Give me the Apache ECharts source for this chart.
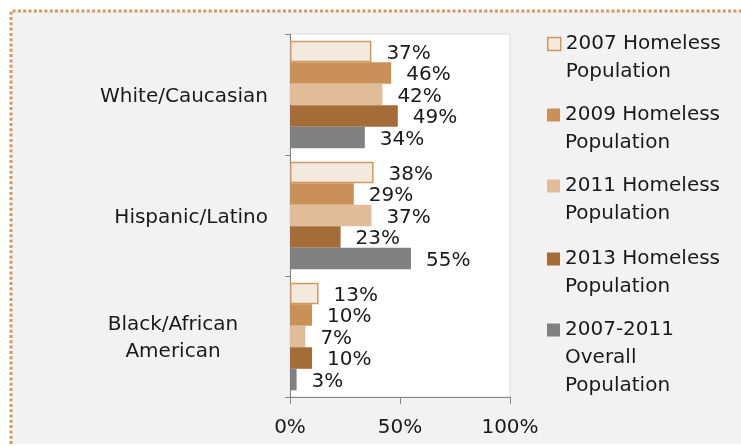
<!DOCTYPE html>
<html>
<head>
<meta charset="utf-8">
<script src="https://cdn.jsdelivr.net/npm/echarts@6/dist/echarts.min.js"></script>
<style>
  html, body { margin: 0; padding: 0; background: #fff; }
  #main { width: 741px; height: 446px; }
</style>
</head>
<body>
<div id="main"></div>
<script>
// data
var groups = ['White/Caucasian', 'Hispanic/Latino', 'Black/African\nAmerican'];
var seriesNames = ['2007 Homeless\nPopulation', '2009 Homeless\nPopulation', '2011 Homeless\nPopulation', '2013 Homeless\nPopulation', '2007-2011\nOverall\nPopulation'];
var homeless2007 = [37, 38, 13];
var homeless2009 = [46, 29, 10];
var homeless2011 = [42, 37, 7];
var homeless2013 = [49, 23, 10];
var overall = [34, 55, 3];
var xTicks = [0, 50, 100];

var colors = ['#f3e9dd', '#c99158', '#e0bc98', '#a46d37', '#808080'];
var font = 'DejaVu Sans';
var fs = 20;
var txt = '#1a1a1a';

var myChart = echarts.init(document.getElementById('main'));

function makeSeries(i, data) {
    var s = {
        name: seriesNames[i],
        type: 'bar',
        data: data,
        barGap: 0,
        barCategoryGap: '11%',
        itemStyle: { color: colors[i] },
        label: {
            show: true,
            position: 'right',
            distance: 15,
            offset: [0, 2],
            formatter: '{c}%',
            color: txt,
            fontFamily: font,
            fontSize: fs
        }
    };
    if (i === 0) {
        s.itemStyle.borderColor = '#d09a5e';
        s.itemStyle.borderWidth = 1.5;
    }
    return s;
}

// one legend per entry; blank lines on top keep the marker beside the first line
var lh = 28;
var iconCenters = [44, 115, 186, 259, 330];
var legends = seriesNames.map(function (n, i) {
    var lines = n.split('\n').length;
    var total = 2 * lines - 1;
    return {
        data: [{ name: n, icon: 'rect' }],
        left: 547,
        top: iconCenters[i] - total * lh / 2,
        padding: 0,
        itemWidth: 13,
        itemHeight: 13,
        itemGap: 0,
        selectedMode: false,
        formatter: function (name) {
            return new Array(lines).join('\n') + name;
        },
        itemStyle: i === 0 ? { borderColor: '#d09a5e', borderWidth: 1.5 } : {},
        textStyle: {
            fontFamily: font,
            fontSize: fs,
            color: txt,
            lineHeight: lh
        }
    };
});

var option = {
    backgroundColor: '#ffffff',
    animation: false,
    graphic: [{
        type: 'rect',
        z: -10,
        silent: true,
        shape: { x: 11, y: 11, width: 780, height: 433 },
        style: { fill: '#f2f2f2' }
    }, {
        // dotted frame, only the top and left edges are in view
        type: 'polyline',
        z: -9,
        silent: true,
        shape: { points: [[11, 444], [11, 11], [760, 11]] },
        style: { fill: null, stroke: '#d4995a', lineWidth: 3, lineDash: [3, 2.3] }
    }],
    legend: legends,
    grid: {
        left: 290, right: 231, top: 34, bottom: 49,
        show: true,
        backgroundColor: '#ffffff',
        borderColor: '#d9d9d9',
        borderWidth: 1
    },
    xAxis: {
        type: 'value',
        min: 0,
        max: 100,
        interval: 50,
        splitLine: { show: false },
        axisLine: { show: true, lineStyle: { color: '#868686' } },
        axisTick: { show: true, length: 7, lineStyle: { color: '#868686' } },
        axisLabel: {
            margin: 21,
            fontFamily: font,
            fontSize: fs,
            color: txt,
            formatter: function (v) { return xTicks.indexOf(v) >= 0 ? v + '%' : ''; }
        }
    },
    yAxis: {
        type: 'category',
        data: groups,
        inverse: true,
        axisLine: { show: true, lineStyle: { color: '#868686' } },
        axisTick: { show: true, length: 5, lineStyle: { color: '#868686' } },
        axisLabel: {
            margin: 22,
            fontFamily: font,
            fontSize: fs,
            color: txt,
            lineHeight: 27,
            padding: [4, 0, 0, 0],
            formatter: function (v) {
                if (v.indexOf('\n') < 0) return v;
                return v.split('\n').map(function (l) { return '{c|' + l + '}'; }).join('\n');
            },
            rich: {
                c: { width: 190, align: 'center', fontFamily: font, fontSize: fs, color: txt, lineHeight: 27 }
            }
        }
    },
    series: [
        makeSeries(0, homeless2007),
        makeSeries(1, homeless2009),
        makeSeries(2, homeless2011),
        makeSeries(3, homeless2013),
        makeSeries(4, overall)
    ]
};

myChart.setOption(option);
</script>
</body>
</html>
